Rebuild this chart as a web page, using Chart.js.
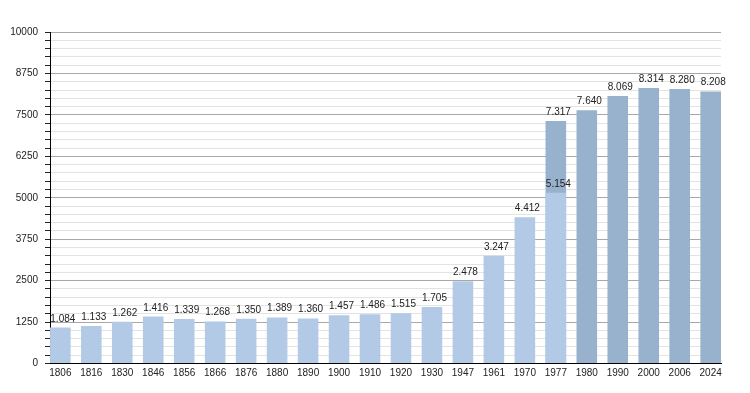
<!DOCTYPE html>
<html>
<head>
<meta charset="utf-8">
<script src="https://cdn.jsdelivr.net/npm/chart.js@4/dist/chart.umd.min.js"></script>
<style>
  html, body { margin: 0; padding: 0; background: #ffffff; }
  #wrap { width: 750px; height: 393px; }
</style>
</head>
<body>
<div id="wrap"><canvas id="c" width="750" height="393"></canvas></div>
<script>
// ---- data ----
const years = ['1806','1816','1830','1846','1856','1866','1876','1880','1890','1900','1910','1920','1930','1947','1961','1970','1977','1980','1990','2000','2006','2024'];
// light series: censuses 1806 .. 1977
const popEarly = [1084,1133,1262,1416,1339,1268,1350,1389,1360,1457,1486,1515,1705,2478,3247,4412,5154];
// dark series: 1977 .. 2024 (starts at index of 1977)
const popLateStart = 16;
const popLate = [7317,7640,8069,8314,8280,8208];
// y axis
const yMax = 10000;
const yMinorStep = 250;
const yMajorStep = 1250;

const fmt = v => String(v).replace(/\B(?=(\d{3})+(?!\d))/g, '.');
const FONT = '"Liberation Sans", Arial, Helvetica, sans-serif';

const valueLabels = {
  id: 'valueLabels',
  afterDatasetsDraw(chart) {
    const ctx = chart.ctx;
    ctx.save();
    ctx.font = '10px ' + FONT;
    ctx.fillStyle = '#222';
    ctx.textAlign = 'center';
    ctx.textBaseline = 'alphabetic';
    chart.data.datasets.forEach((ds, di) => {
      const meta = chart.getDatasetMeta(di);
      meta.data.forEach((el, i) => {
        ctx.fillText(fmt(ds.data[i].y), el.x + 2.5, el.y - 6);
      });
    });
    ctx.restore();
  }
};

new Chart(document.getElementById('c'), {
  type: 'bar',
  data: {
    datasets: [
      {
        data: popEarly.map((v, i) => ({ x: i, y: v })),
        backgroundColor: '#b2cae6',
        borderWidth: 0
      },
      {
        data: popLate.map((v, i) => ({ x: i + popLateStart, y: v })),
        backgroundColor: '#98b1cc',
        borderWidth: 0
      }
    ]
  },
  plugins: [valueLabels],
  options: {
    responsive: false,
    animation: false,
    grouped: false,
    categoryPercentage: 1,
    barPercentage: 0.665,
    layout: { padding: { left: 0, right: 29, top: 32, bottom: 0 } },
    plugins: { legend: { display: false }, tooltip: { enabled: false } },
    scales: {
      x: {
        type: 'linear',
        min: -1/3,
        max: years.length - 1 + 1/3,
        offset: false,
        grid: { display: true, drawOnChartArea: false, drawTicks: false },
        border: { display: true, color: '#000', width: 1 },
        ticks: {
          stepSize: 1,
          includeBounds: false,
          autoSkip: false,
          maxRotation: 0,
          padding: 4,
          color: '#222',
          font: { family: FONT, size: 10 },
          callback: v => (Number.isInteger(v) && years[v]) ? years[v] : ''
        },
        afterFit: s => { s.height = 29.5; }
      },
      y: {
        min: 0,
        max: yMax,
        grid: {
          color: c => (c.tick && c.tick.value % yMajorStep === 0) ? '#a8a8a8' : '#e3e3e3',
          tickColor: '#222',
          tickLength: 5,
          lineWidth: 1
        },
        border: { display: true, color: '#000', width: 1 },
        ticks: {
          stepSize: yMinorStep,
          autoSkip: false,
          padding: 7,
          color: '#222',
          font: { family: FONT, size: 10 },
          callback: v => (v % yMajorStep === 0) ? String(v) : ''
        },
        afterFit: s => { s.width = 50; }
      }
    }
  }
});
</script>
</body>
</html>
